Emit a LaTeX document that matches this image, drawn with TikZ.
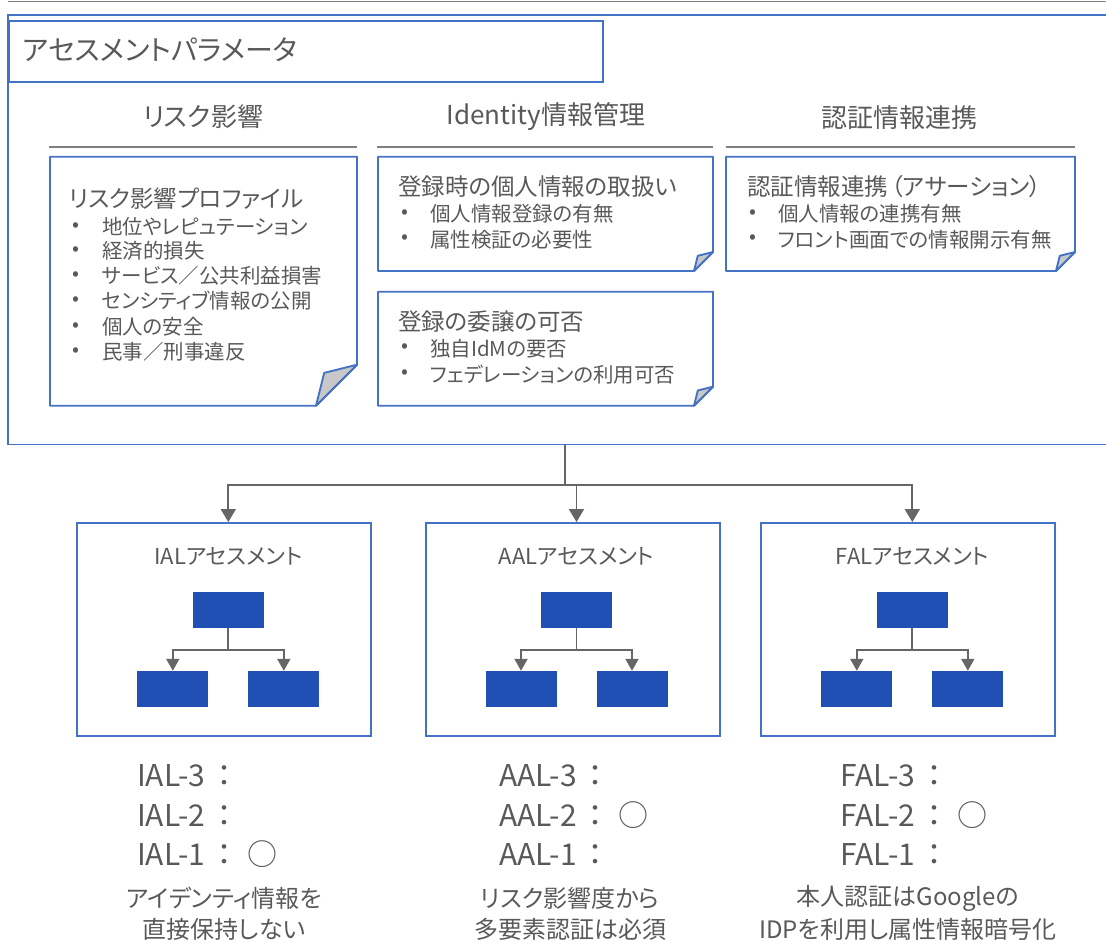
\documentclass[tikz,border=0pt]{standalone}
\usepackage{fontspec}
\setmainfont{Noto Sans CJK JP}[RawFeature=+palt]
\newfontfamily\lblfont{Noto Sans CJK JP}
\usetikzlibrary{arrows.meta,calc}
\definecolor{bblue}{HTML}{4472C4}
\definecolor{rblue}{HTML}{2050B4}
\definecolor{tgray}{HTML}{595959}
\definecolor{cgray}{HTML}{666666}
\definecolor{lgray}{HTML}{808080}
\definecolor{fgray}{HTML}{C8C8C8}
\tikzset{
  bx/.style={draw=bblue, line width=1.9pt},
  txt/.style={text=tgray, inner sep=0pt, outer sep=0pt},
  ttl/.style={txt, anchor=west, font=\fontsize{28}{33}\selectfont},
  hd/.style={txt, font=\fontsize{26}{31}\selectfont},
  ntitle/.style={txt, anchor=west, font=\fontsize{23.5}{28}\selectfont},
  nbul/.style={txt, anchor=west, font=\fontsize{20.5}{25}\selectfont},
  lbl/.style={txt, anchor=west, font=\lblfont\fontsize{30}{36}\selectfont},
  btxt/.style={txt, font=\fontsize{24}{29}\selectfont},
  sub/.style={txt, font=\fontsize{22}{26}\selectfont},
  conn/.style={draw=cgray, line width=1.9pt},
  thickconn/.style={draw=cgray, line width=2.9pt},
  bigtip/.style={-{Triangle[width=15pt,length=13pt]}},
  smalltip/.style={-{Triangle[width=13pt,length=12pt]}},
  abox/.style={bx, minimum width=294pt, minimum height=213pt, inner sep=0pt},
  rectb/.style={fill=rblue, minimum width=71pt, minimum height=36pt, inner sep=0pt},
  hline/.style={draw=lgray, line width=2pt},
  fold/.style={fill=fgray, draw=bblue, line width=1.9pt, line join=round}
}
% #1 x1, #2 y1, #3 x2, #4 y2, #5 fold size
\newcommand{\foldnote}[5]{%
  \draw[bx, line join=round] (#1,#2) -- (#3,#2) -- (#3,#4-#5) -- (#3-#5,#4) -- (#1,#4) -- cycle;
  \draw[fold] (#3,#4-#5) -- (#3-0.8*#5,#4-0.8*#5) -- (#3-#5,#4) -- cycle;
}
\newcommand{\lv}[2]{#1\hspace{4pt}：\hspace{8pt}#2}
\begin{document}
\begin{tikzpicture}[x=1pt, y=-1pt]
\useasboundingbox (0,0) rectangle (1106,942);

% top line and outer frame
\draw[hline, line width=1.4pt] (8,1.5) -- (1106,1.5);
\draw[bx] (1106,15) -- (8,15) -- (8,444.5) -- (1106,444.5);
\node[bx, minimum width=594pt, minimum height=61pt, inner sep=0pt, anchor=north west] (tbox) at (8,20) {};
\node[ttl] (ttltext) at (23,50) {アセスメントパラメータ};

% headings
\node[hd] (h1) at (203,117) {リスク影響};
\node[hd] (h2) at (546,117) {Identity情報管理};
\node[hd] (h3) at (899,118) {認証情報連携};
\draw[hline] (49,147) -- (357,147);
\draw[hline] (377,147) -- (713,147);
\draw[hline] (726,147) -- (1075,147);

% notes
\foldnote{50}{156.7}{357}{405.7}{41}
\foldnote{378}{156.7}{713}{271}{19}
\foldnote{378}{291.7}{713}{405.7}{19}
\foldnote{726}{156.7}{1075}{271}{19}

\node[ntitle] (n1t) at (69,199) {リスク影響プロファイル};
\foreach \yy/\tt [count=\i] in {226.7/地位やレピュテーション, 251/経済的損失, 276/サービス／公共利益損害, 301/センシティブ情報の公開, 326.7/個人の安全, 352/民事／刑事違反}{
  \node[nbul] (n1b\i) at (72,\yy) {•};
  \node[nbul] (n1x\i) at (102,\yy) {\tt};
}
\node[ntitle] (n2t) at (398,187) {登録時の個人情報の取扱い};
\node[nbul] (n2b1) at (401,214) {•};
\node[nbul] (n2x1) at (430,214) {個人情報登録の有無};
\node[nbul] (n2b2) at (401,239.3) {•};
\node[nbul] (n2x2) at (430,239.3) {属性検証の必要性};

\node[ntitle] (n3t) at (398,321.7) {登録の委譲の可否};
\node[nbul] (n3b1) at (401,348.3) {•};
\node[nbul] (n3x1) at (430,348.3) {独自IdMの要否};
\node[nbul] (n3b2) at (401,374.3) {•};
\node[nbul] (n3x2) at (430,374.3) {フェデレーションの利用可否};

\node[ntitle] (n4t) at (747,187) {認証情報連携\hspace{3pt}（アサーション）};
\node[nbul] (n4b1) at (749,214) {•};
\node[nbul] (n4x1) at (778,214) {個人情報の連携有無};
\node[nbul] (n4b2) at (749,239.3) {•};
\node[nbul] (n4x2) at (778,239.3) {フロント画面での情報開示有無};

% assessment boxes
\node[abox] (ial) at (223.8,629.5) {};
\node[abox] (aal) at (573,629.5) {};
\node[abox] (fal) at (908.4,629.5) {};
\node[sub] (ials) at (228.3,556.5) {IALアセスメント};
\node[sub] (aals) at (576.5,556.5) {AALアセスメント};
\node[sub] (fals) at (912.3,556.5) {FALアセスメント};

% trees
\foreach \nm/\cx in {ial/228.3, aal/576.5, fal/912.3}{
  \node[rectb] (\nm t) at (\cx,610.2) {};
  \node[rectb] (\nm l) at (\cx-55.5,689) {};
  \node[rectb] (\nm r) at (\cx+55.5,689) {};
  \coordinate (\nm j) at ($(\nm t.south)+(0,21.5)$);
  \draw[conn] (\nm t.south) -- (\nm j);
  \draw[conn, smalltip] (\nm j) -| (\nm l.north);
  \draw[conn, smalltip] (\nm j) -| (\nm r.north);
}

% main connector
\coordinate (outb) at (565,444.5);
\coordinate (hub) at (565,485);
\draw[thickconn] (outb) -- (hub);
\draw[conn, bigtip] (hub) -| (ialt |- ial.north);
\draw[conn, bigtip] (hub) -| (aalt |- aal.north);
\draw[conn, bigtip] (hub) -| (falt |- fal.north);

% level labels
\node[lbl] (ial3) at (137,776) {\lv{IAL-3}{}};
\node[lbl] (ial2) at (137,815) {\lv{IAL-2}{}};
\node[lbl] (ial1) at (137,854) {\lv{IAL-1}{○}};
\node[lbl] (aal3) at (499,776) {\lv{AAL-3}{}};
\node[lbl] (aal2) at (499,815) {\lv{AAL-2}{○}};
\node[lbl] (aal1) at (499,854) {\lv{AAL-1}{}};
\node[lbl] (fal3) at (840,776) {\lv{FAL-3}{}};
\node[lbl] (fal2) at (840,815) {\lv{FAL-2}{○}};
\node[lbl] (fal1) at (840,854) {\lv{FAL-1}{}};

\node[btxt] (ialn1) at (224,898) {アイデンティ情報を};
\node[btxt] (ialn2) at (224,929) {直接保持しない};
\node[btxt] (aaln1) at (570,898) {リスク影響度から};
\node[btxt] (aaln2) at (570,929) {多要素認証は必須};
\node[btxt] (faln1) at (908,898) {本人認証はGoogleの};
\node[btxt] (faln2) at (908,929) {IDPを利用し属性情報暗号化};
\end{tikzpicture}
\end{document}
